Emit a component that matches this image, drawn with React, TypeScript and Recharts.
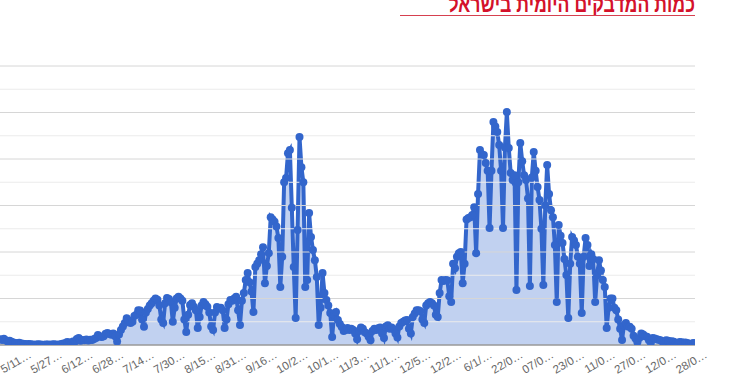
import React from "react";
import {
  AreaChart,
  Area,
  XAxis,
  YAxis,
  ReferenceLine,
} from "recharts";

// daily new cases, one value per day (index 0 = left edge of the plot)
const dailyCases: number[] = [
  250, 220, 270, 200, 150, 180, 140, 110, 90, 80,
  100, 60, 50, 40, 30, 45, 35, 20, 15, 25,
  30, 20, 15, 10, 20, 25, 15, 20, 30, 25,
  15, 20, 40, 60, 80, 130, 110, 90, 150, 140,
  260, 300, 180, 220, 200, 240, 190, 230, 210, 260,
  300, 430, 370, 340, 380, 480, 520, 470, 440, 500,
  380, 150, 450, 650, 800, 950, 1150, 1050, 950, 1000,
  1250, 1300, 1500, 1480, 1100, 780, 1400, 1550, 1700, 1800,
  1900, 2000, 1950, 1700, 1100, 950, 1800, 2020, 1980, 1850,
  1000, 1600, 2000, 2070, 2000, 1900, 1100, 560, 1300, 1720,
  1800, 1650, 1500, 730, 1200, 1700, 1850, 1750, 1650, 1400,
  800, 650, 1400, 1630, 1580, 1600, 1500, 730, 1100, 1750,
  1935, 1900, 2000, 2070, 1500, 860, 1900, 2240, 2800, 3100,
  2700, 2300, 1420, 3350, 3500, 3650, 3900, 4200, 2660, 3400,
  3950, 5500, 5400, 5300, 5100, 4600, 2500, 3800, 7000, 7180,
  8250, 8390, 5900, 3350, 1160, 4950, 8950, 7650, 7000, 2500,
  2800, 5680, 4650, 4090, 3650, 2925, 860, 1600, 3100, 2240,
  1935, 1700, 1380, 340, 1300, 1420, 1075, 900, 775, 600,
  650, 730, 650, 700, 650, 500, 250, 600, 750, 700,
  550, 500, 350, 200, 600, 700, 650, 720, 750, 500,
  300, 800, 850, 700, 750, 680, 500, 320, 800, 950,
  1000, 1050, 1075, 700, 500, 1200, 1350, 1500, 1500, 1450,
  1100, 950, 1700, 1800, 1850, 1800, 1700, 1300, 1200, 2240,
  2800, 2750, 2800, 2780, 2100, 1850, 3500, 3300, 3800, 3950,
  4000, 2660, 3500, 5400, 5460, 5500, 5590, 5930, 3950, 6500,
  8390, 8200, 8170, 7830, 7500, 5030, 7500, 9590, 9400, 9160,
  8600, 7500, 5030, 8500, 10020, 8470, 7400, 7100, 7300, 2365,
  7000, 8690, 7900, 7300, 7100, 6300, 2540, 7200, 8300, 7500,
  6800, 6240, 5000, 2580, 6000, 7740, 6500, 5800, 5500, 4300,
  1850, 5160, 4700, 4390, 3700, 3010, 1160, 3500, 4650, 4500,
  4300, 3800, 3500, 1380, 3800, 4600, 4300, 3400, 3900, 3700,
  1850, 3000, 3650, 3200, 2800, 2500, 730, 1600, 2000, 2000,
  1600, 1500, 1100, 700, 220, 850, 950, 800, 780, 700,
  400, 280, 120, 300, 500, 450, 380, 350, 200, 100,
  300, 280, 250, 230, 200, 150, 80, 200, 180, 150,
  160, 140, 80, 40, 130, 120, 100, 110, 90, 50,
  30, 90, 80,
];

// x axis labels (already cut short, as in the original chart)
const tickIdx: number[] = [
  10, 26, 42, 58, 74, 90, 106, 122, 138, 154, 170, 186,
  202, 218, 234, 250, 266, 282, 298, 314, 330, 346, 362,
];
const tickLabels: string[] = [
  "5/11…", "5/27…", "6/12…", "6/28…", "7/14…", "7/30…", "8/15…", "8/31…",
  "9/16…", "10/2…", "10/1…", "11/3…", "11/1…", "12/5…", "12/2…", "6/1/…",
  "22/0…", "07/0…", "23/0…", "11/0…", "27/0…", "12/0…", "28/0…",
];

const gridValues: number[] = [
  1000, 2000, 3000, 4000, 5000, 6000, 7000, 8000, 9000, 10000, 11000, 12000,
];

const title = "כמות המדבקים היומית בישראל";

const rows = dailyCases.map((cases, i) => ({ i, cases }));

function SlantTick({ x, y, payload }: any) {
  const label = tickLabels[tickIdx.indexOf(payload.value)] ?? "";
  return (
    <g transform={`translate(${x + 13},${y + 4})`}>
      <text
        textAnchor="end"
        transform="rotate(-30)"
        fontSize={11.5}
        fill="#666"
        fontFamily="'Liberation Sans', Arial, sans-serif"
      >
        {label}
      </text>
    </g>
  );
}

export default function App() {
  return (
    <div
      style={{
        position: "absolute",
        left: 0,
        top: 0,
        width: 750,
        height: 375,
        overflow: "hidden",
        background: "#fff",
      }}
    >
      <div
        style={{
          position: "absolute",
          left: 0,
          top: -7,
          width: 695,
          textAlign: "right",
          direction: "rtl",
          color: "#d4112b",
          fontFamily: "'Liberation Sans', Arial, sans-serif",
          fontSize: 23,
          fontWeight: 700,
          lineHeight: "23px",
          whiteSpace: "nowrap",
          transform: "scaleX(0.77)",
          transformOrigin: "695px 0",
        }}
      >
        {title}
      </div>
      <div
        style={{
          position: "absolute",
          left: 400,
          top: 15,
          width: 295,
          height: 0,
          borderTop: "1.5px solid #d6404f",
        }}
      />
      <AreaChart
        width={750}
        height={375}
        data={rows}
        margin={{ top: 66, right: 55, left: 0, bottom: 0 }}
      >
        <XAxis
          type="number"
          dataKey="i"
          domain={[0, 362]}
          ticks={tickIdx}
          interval={0}
          tick={<SlantTick />}
          tickLine={false}
          axisLine={{ stroke: "#999", strokeWidth: 1.5 }}
          height={30}
          allowDataOverflow
        />
        <YAxis type="number" domain={[0, 12000]} hide allowDataOverflow />
        {gridValues.map((v) => (
          <ReferenceLine
            key={v}
            y={v}
            stroke={v % 2000 === 0 ? "#d6d6d6" : "#ebebeb"}
            strokeWidth={1}
          />
        ))}
        <Area
          type="linear"
          dataKey="cases"
          stroke="#3366cc"
          strokeWidth={4}
          fill="#3366cc"
          fillOpacity={0.3}
          dot={{
            r: 4,
            fill: "#3366cc",
            fillOpacity: 1,
            stroke: "#3366cc",
            strokeWidth: 0,
          }}
          isAnimationActive={false}
        />
      </AreaChart>
    </div>
  );
}
